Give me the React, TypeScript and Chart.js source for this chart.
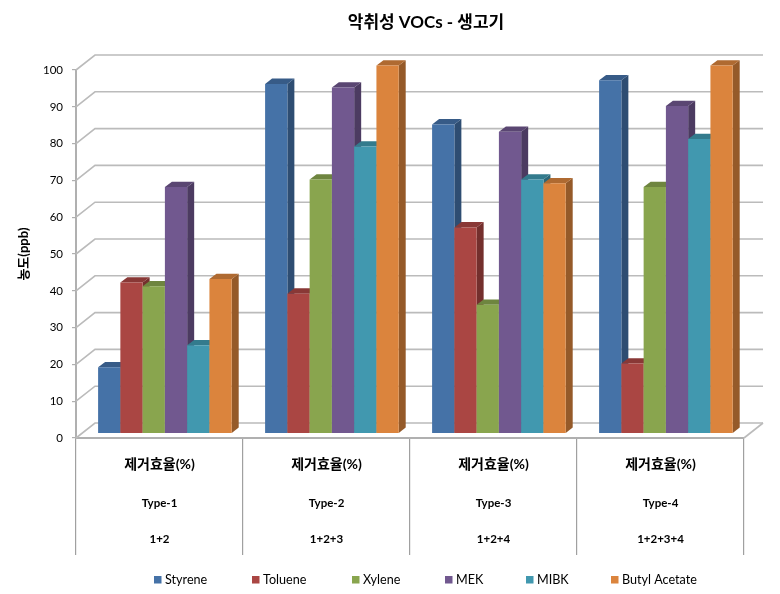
import React, { useEffect, useRef } from "react";
import { Chart, registerables } from "chart.js";

Chart.register(...registerables);

const chartTitle = "악취성 VOCs - 생고기";
const yTitle = "농도(ppb)";
const efficiencyLabels = ["제거효율(%)", "제거효율(%)", "제거효율(%)", "제거효율(%)"];
const typeLabels = ["Type-1", "Type-2", "Type-3", "Type-4"];
const comboLabels = ["1+2", "1+2+3", "1+2+4", "1+2+3+4"];

const styrene = [18, 95, 84, 96];
const toluene = [41, 38, 56, 19];
const xylene = [40, 69, 35, 67];
const mek = [67, 94, 82, 89];
const mibk = [24, 78, 69, 80];
const butylAcetate = [42, 100, 68, 100];

const seriesNames = ["Styrene", "Toluene", "Xylene", "MEK", "MIBK", "Butyl Acetate"];
const seriesValues = [styrene, toluene, xylene, mek, mibk, butylAcetate];
const frontColors = ["#4572A7", "#AA4643", "#89A54E", "#71588F", "#4198AF", "#DB843D"];
const sideColors = ["#2E4D72", "#742F2D", "#5D7035", "#4C3B61", "#2C6777", "#955A29"];
const topColors = ["#375B87", "#893836", "#6E853F", "#5A4672", "#337B8D", "#AF6A31"];

const FONT = 'Lato, "Noto Sans CJK KR", sans-serif';
const GRID = "#BBBBBB";
const WALL_DX = 19;
const WALL_DY = -15;
const BAR_DX = 5.4;
const BAR_DY = -4.5;
const DEPTH_DX = 7;
const DEPTH_DY = -5.3;
const LEGEND_STARTS = [154, 252, 352, 445, 526, 611];

const wallsAndBars = {
  id: "wallsAndBars",
  afterLayout(chart: any) {
    const t = chart.titleBlock;
    if (t) {
      t.left += 54;
      t.right += 54;
    }
  },
  beforeDatasetsDraw(chart: any) {
    const { ctx, chartArea, scales } = chart;
    const { left, right, bottom } = chartArea;
    ctx.save();
    ctx.strokeStyle = GRID;
    ctx.lineWidth = 1.6;
    scales.y.ticks.forEach((t: any) => {
      const y = scales.y.getPixelForValue(t.value);
      ctx.beginPath();
      ctx.moveTo(left, y);
      ctx.lineTo(left + WALL_DX, y + WALL_DY);
      ctx.lineTo(right + WALL_DX, y + WALL_DY);
      ctx.stroke();
    });
    ctx.beginPath();
    ctx.moveTo(right, bottom);
    ctx.lineTo(right + WALL_DX, bottom + WALL_DY);
    ctx.stroke();
    ctx.translate(BAR_DX, BAR_DY);
    chart.data.datasets.forEach((_: any, i: number) => {
      chart.getDatasetMeta(i).data.forEach((bar: any) => {
        const l = bar.x - bar.width / 2;
        const r = bar.x + bar.width / 2;
        const yTop = bar.y;
        const yBase = bar.base;
        ctx.fillStyle = sideColors[i];
        ctx.beginPath();
        ctx.moveTo(r, yTop);
        ctx.lineTo(r + DEPTH_DX, yTop + DEPTH_DY);
        ctx.lineTo(r + DEPTH_DX, yBase + DEPTH_DY);
        ctx.lineTo(r, yBase);
        ctx.closePath();
        ctx.fill();
        ctx.fillStyle = topColors[i];
        ctx.beginPath();
        ctx.moveTo(l, yTop);
        ctx.lineTo(l + DEPTH_DX, yTop + DEPTH_DY);
        ctx.lineTo(r + DEPTH_DX, yTop + DEPTH_DY);
        ctx.lineTo(r, yTop);
        ctx.closePath();
        ctx.fill();
        bar.draw(ctx, chartArea);
      });
    });
    ctx.restore();
    return false;
  },
  afterDraw(chart: any) {
    const { ctx, scales } = chart;
    ctx.save();
    ctx.fillStyle = "#000";
    ctx.font = `bold 14px ${FONT}`;
    ctx.textAlign = "center";
    ctx.textBaseline = "middle";
    efficiencyLabels.forEach((label, i) => {
      ctx.fillText(label, scales.x.getPixelForValue(i), 464);
    });
    ctx.restore();

    ctx.save();
    ctx.font = `12.6px ${FONT}`;
    ctx.textBaseline = "middle";
    seriesNames.forEach((name, i) => {
      const x = LEGEND_STARTS[i];
      ctx.fillStyle = frontColors[i];
      ctx.fillRect(x, 576, 7.5, 7.5);
      ctx.fillStyle = "#000";
      ctx.fillText(name, x + 11, 580);
    });
    ctx.restore();
  },
};

export default function App() {
  const ref = useRef<HTMLCanvasElement>(null);
  useEffect(() => {
    const chart = new Chart(ref.current as HTMLCanvasElement, {
      type: "bar",
      data: {
        labels: typeLabels.map((t, i) => [t, comboLabels[i]]),
        datasets: seriesNames.map((name, i) => ({
          label: name,
          data: seriesValues[i],
          backgroundColor: frontColors[i],
          borderWidth: 0,
          categoryPercentage: 0.8,
          barPercentage: 1,
        })),
      },
      options: {
        animation: false,
        responsive: false,
        layout: { padding: { left: 0, right: 36, top: 0, bottom: 0 } },
        plugins: {
          legend: { display: false },
          tooltip: { enabled: false },
          title: {
            display: true,
            text: chartTitle,
            color: "#000",
            font: { family: FONT, size: 17, weight: "bold", lineHeight: 1.2 },
            padding: { top: 12.5, bottom: 37.1 },
          },
        },
        scales: {
          x: {
            afterFit: (s: any) => {
              s.height = 156;
            },
            grid: {
              offset: true,
              drawOnChartArea: false,
              drawTicks: true,
              tickLength: 117,
              color: "#A0A0A0",
              lineWidth: 1.2,
            },
            border: { color: "#B0B0B0", width: 2 },
            ticks: {
              autoSkip: false,
              maxRotation: 0,
              minRotation: 0,
              padding: -70,
              color: "#000",
              font: { family: FONT, size: 11.5, weight: "bold", lineHeight: 3.13 },
            },
          },
          y: {
            min: 0,
            max: 100,
            afterFit: (s: any) => {
              s.width = 76;
            },
            title: {
              display: true,
              text: yTitle,
              color: "#000",
              font: { family: FONT, size: 13, weight: "bold", lineHeight: 1.2 },
              padding: { top: 15.7, bottom: 0 },
            },
            grid: {
              drawOnChartArea: false,
              drawTicks: true,
              tickLength: 4,
              color: "#B0B0B0",
              lineWidth: 1.2,
            },
            border: { color: "#B0B0B0", width: 2 },
            ticks: {
              stepSize: 10,
              padding: 9,
              color: "#000",
              font: { family: FONT, size: 11.5 },
            },
          },
        },
      } as any,
      plugins: [wallsAndBars],
    });
    return () => chart.destroy();
  }, []);
  return (
    <div style={{ position: "absolute", left: 0, top: 0, width: 780, height: 594, background: "#fff" }}>
      <canvas ref={ref} width={780} height={594} style={{ display: "block" }} />
    </div>
  );
}
